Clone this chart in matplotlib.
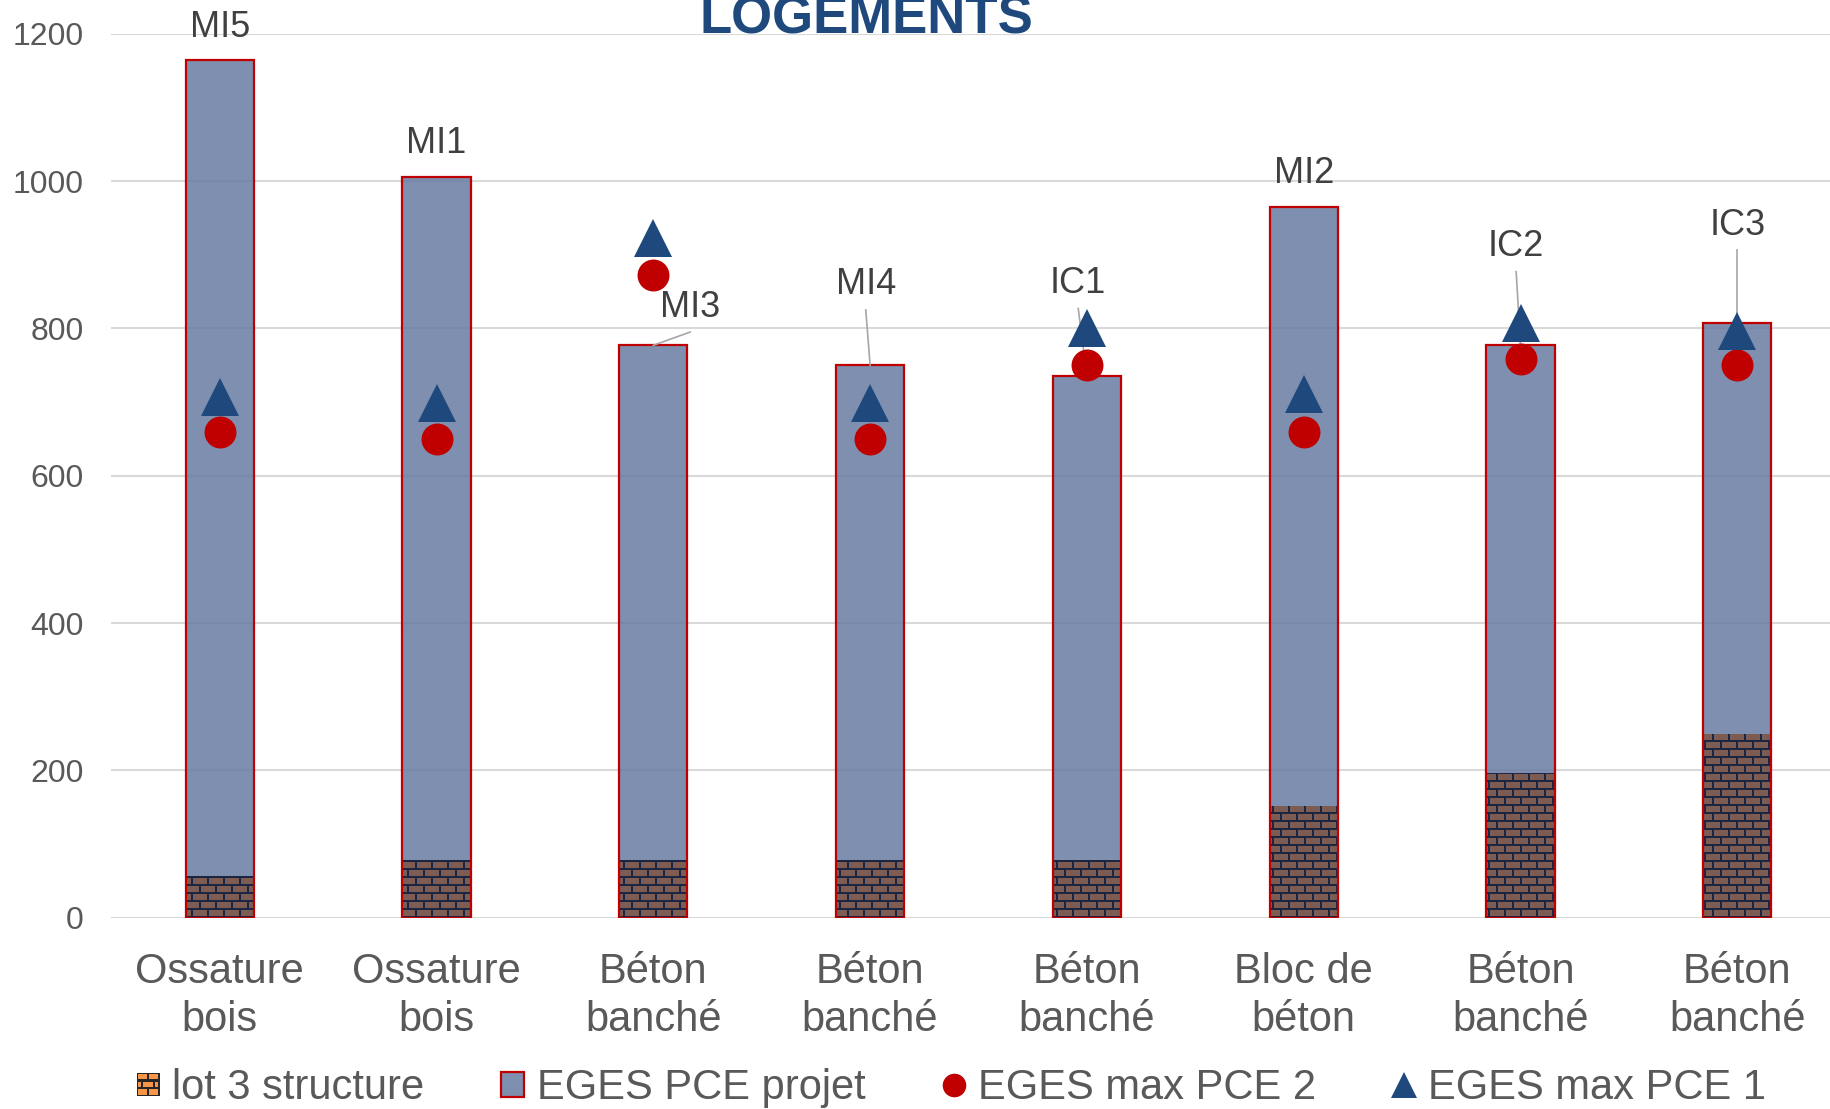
import numpy as np
import matplotlib
matplotlib.use("Agg")
import matplotlib.pyplot as plt
from matplotlib.patches import Rectangle, Patch
from matplotlib.lines import Line2D
from matplotlib.path import Path
from matplotlib.legend_handler import HandlerBase

plt.rcParams['font.family'] = ['Liberation Sans', 'DejaVu Sans']

# data
categories = ['Ossature\nbois', 'Ossature\nbois', 'Béton\nbanché', 'Béton\nbanché',
              'Béton\nbanché', 'Bloc de\nbéton', 'Béton\nbanché', 'Béton\nbanché']
names = ['MI5', 'MI1', 'MI3', 'MI4', 'IC1', 'MI2', 'IC2', 'IC3']
eges_projet = [1164, 1005, 777, 750, 736, 965, 777, 807]
lot3 = [57, 78, 78, 78, 78, 152, 196, 249]
eges_max2 = [659, 650, 872, 650, 750, 660, 758, 750]
eges_max1 = [707, 699, 922, 699, 800, 711, 807, 797]

# label placement (x offset from bar, y value) and whether a leader line is drawn
label_dx = [0, 0, 0.17, -0.02, -0.04, 0, -0.02, 0]
label_y = [1209, 1051, 829, 859, 861, 1010, 911, 940]
leader = [False, False, True, True, True, False, True, True]

W_FIG, H_FIG = 1831, 1109
fig = plt.figure(figsize=(W_FIG / 100, H_FIG / 100), dpi=100)
ax_l, ax_b = 111.3 / W_FIG, 1 - 917.7 / H_FIG
ax_w, ax_h = (1845.7 - 111.3) / W_FIG, (917.7 - 33.7) / H_FIG
ax = fig.add_axes([ax_l, ax_b, ax_w, ax_h])

x = np.arange(len(categories))
bw = 0.314

ax.set_xlim(-0.5, len(categories) - 0.5)
ax.set_ylim(0, 1200)

# grid
ax.set_yticks([0, 200, 400, 600, 800, 1000, 1200])
ax.yaxis.grid(True, color='#D9D9D9', linewidth=1.5, zorder=0)
ax.set_axisbelow(True)
for s in ax.spines.values():
    s.set_visible(False)
ax.tick_params(axis='y', length=0, pad=20, labelsize=23, labelcolor='#595959')
ax.tick_params(axis='x', length=0, pad=25, labelsize=30, labelcolor='#595959')
ax.set_xticks(x)
ax.set_xticklabels(categories, linespacing=1.25)

# main bars (translucent)
ax.bar(x, eges_projet, width=bw, color='#687BA1', alpha=0.85, linewidth=0, zorder=2)

# brick bars
bricks = ax.bar(x, lot3, width=bw, color='#1C2541', linewidth=0, zorder=3)

# brick texture in pixel space, clipped to the brick bars
tw, th = int(round(ax_w * W_FIG)), int(round(ax_h * H_FIG))
py, px = np.mgrid[0:th, 0:tw]
row = py // 8
mortar = (py % 8 < 2) | ((px + (row % 2) * 8) % 16 < 2)
tex = np.zeros((th, tw, 3), dtype=np.uint8)
tex[...] = (125, 92, 83)
tex[mortar] = (28, 37, 65)
im = ax.imshow(tex, extent=(-0.5, len(categories) - 0.5, 0, 1200), origin='lower',
               interpolation='nearest', aspect='auto', zorder=3.5)
clip = Path.make_compound_path(*[p.get_patch_transform().transform_path(p.get_path())
                                 for p in bricks])
im.set_clip_path(clip, ax.transData)

# red outlines
ax.bar(x, eges_projet, width=bw, fill=False, edgecolor='#C00000', linewidth=1.6, zorder=4)

# markers
ax.scatter(x, eges_max2, s=23 ** 2, marker='o', color='#C00000', linewidths=0, zorder=6)
ax.plot(x, eges_max1, linestyle='none', marker='^', markersize=27.5, color='#1F497D',
        markeredgewidth=0, zorder=6)

# data labels
for i in range(len(names)):
    lx = x[i] + label_dx[i]
    ax.text(lx, label_y[i], names[i], ha='center', va='center', fontsize=26,
            color='#404040', zorder=7, clip_on=False)
    if leader[i]:
        ax.plot([lx, x[i]], [label_y[i] - 34, eges_projet[i]], color='#A6A6A6',
                linewidth=1.2, zorder=5.5)

# title (clipped at the top of the image)
fig.text(866 / W_FIG, 1 - 33 / H_FIG, 'LOGEMENTS', ha='center', va='baseline',
         fontsize=38, fontweight='bold', color='#1F497D')


class BrickHandler(HandlerBase):
    def create_artists(self, legend, orig_handle, xdescent, ydescent, width, height,
                       fontsize, trans):
        s = 16.5
        x0 = -xdescent + (width - s) / 2
        y0 = -ydescent + (height - s) / 2
        arts = [Rectangle((x0, y0), s, s, facecolor='#262626', edgecolor='none',
                          transform=trans)]
        rh = s / 3
        for r in range(3):
            off = 0 if r % 2 == 0 else -s / 4
            bx = x0 + off
            while bx < x0 + s:
                a = max(bx, x0) + 0.8
                b = min(bx + s / 2, x0 + s) - 0.8
                if b > a:
                    arts.append(Rectangle((a, y0 + r * rh + 0.8), b - a, rh - 1.6,
                                          facecolor='#F79646', edgecolor='none',
                                          transform=trans))
                bx += s / 2
        return arts


h_brick = Rectangle((0, 0), 1, 1)
h_bar = Patch(facecolor='#7F8FAF', edgecolor='#C00000', linewidth=1.6)
h_c = Line2D([], [], linestyle='none', marker='o', markersize=17, color='#C00000',
             markeredgewidth=0)
h_t = Line2D([], [], linestyle='none', marker='^', markersize=19, color='#1F497D',
             markeredgewidth=0)
fig.legend([h_brick, h_bar, h_c, h_t],
           ['lot 3 structure', 'EGES PCE projet', 'EGES max PCE 2', 'EGES max PCE 1'],
           handler_map={h_brick: BrickHandler()},
           loc='center', bbox_to_anchor=(951.5 / W_FIG, 1 - 1088 / H_FIG), ncol=4,
           frameon=False, fontsize=30, labelcolor='#595959', handlelength=0.55,
           handleheight=0.55, handletextpad=0.3, columnspacing=1.85, borderpad=0)

fig.savefig('out.png', dpi=100)
